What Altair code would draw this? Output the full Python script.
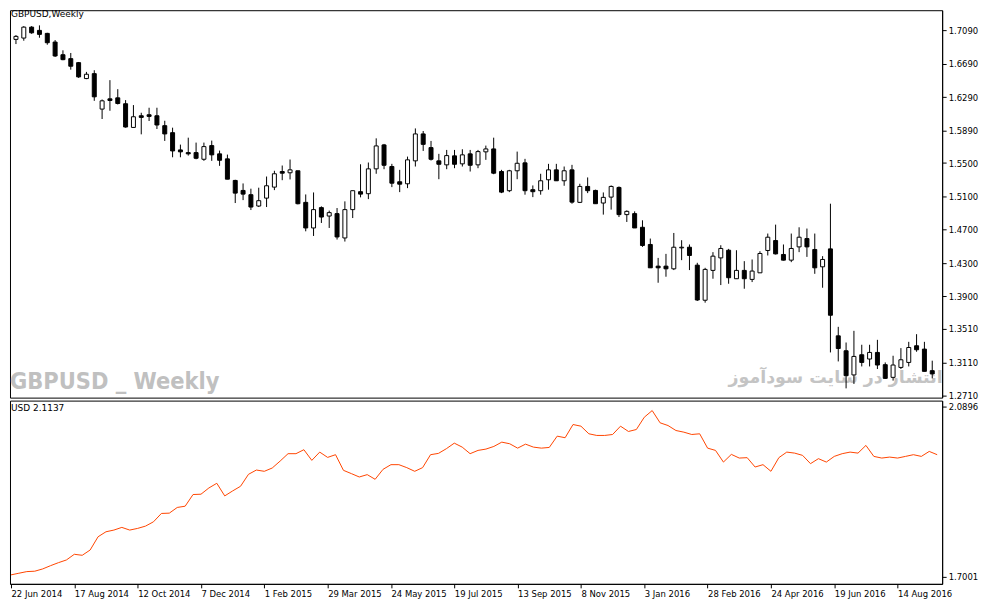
import json
import altair as alt
import pandas as pd

# ---- data (weekly candles, 22 Jun 2014 .. 18 Sep 2016) ----
opens = [1.6983, 1.6999, 1.7130, 1.7091, 1.7055, 1.6951, 1.6799, 1.6752, 1.6704, 1.6513,
         1.6572, 1.6147, 1.6270, 1.6282, 1.6211, 1.5927, 1.6067, 1.6079, 1.6067, 1.5948,
         1.5864, 1.5657, 1.5625, 1.5625, 1.5545, 1.5709, 1.5610, 1.5550, 1.5291, 1.5171,
         1.5120, 1.4984, 1.5079, 1.5211, 1.5398, 1.5383, 1.5407, 1.5028, 1.4721, 1.4965,
         1.4864, 1.4893, 1.4601, 1.4941, 1.5156, 1.5132, 1.5430, 1.5717, 1.5458, 1.5275,
         1.5251, 1.5526, 1.5849, 1.5685, 1.5526, 1.5478, 1.5586, 1.5490, 1.5610, 1.5478,
         1.5634, 1.5669, 1.5398, 1.5168, 1.5407, 1.5502, 1.5180, 1.5168, 1.5299, 1.5418,
         1.5287, 1.5418, 1.5028, 1.5219, 1.5171, 1.5020, 1.5091, 1.5207, 1.4881, 1.4893,
         1.4729, 1.4523, 1.4263, 1.4263, 1.4231, 1.4482, 1.4490, 1.4275, 1.3854, 1.4212,
         1.4362, 1.4454, 1.4112, 1.4212, 1.4104, 1.4183, 1.4451, 1.4570, 1.4403, 1.4335,
         1.4494, 1.4594, 1.4463, 1.4255, 1.4470, 1.3427, 1.3248, 1.2958, 1.3200, 1.3149,
         1.3228, 1.3081, 1.2929, 1.3048, 1.3108, 1.3308, 1.3268, 1.3009]
highs = [1.7035, 1.7142, 1.7142, 1.7151, 1.7062, 1.6975, 1.6852, 1.6820, 1.6712, 1.6593,
         1.6613, 1.6262, 1.6494, 1.6386, 1.6255, 1.6195, 1.6103, 1.6163, 1.6163, 1.6007,
         1.5924, 1.5721, 1.5804, 1.5745, 1.5745, 1.5769, 1.5649, 1.5601, 1.5299, 1.5255,
         1.5192, 1.5204, 1.5338, 1.5407, 1.5470, 1.5542, 1.5407, 1.5123, 1.5147, 1.4980,
         1.4929, 1.4960, 1.5040, 1.5168, 1.5485, 1.5506, 1.5796, 1.5729, 1.5490, 1.5418,
         1.5577, 1.5915, 1.5884, 1.5765, 1.5610, 1.5657, 1.5657, 1.5665, 1.5657, 1.5657,
         1.5709, 1.5804, 1.5418, 1.5418, 1.5637, 1.5550, 1.5231, 1.5371, 1.5490, 1.5490,
         1.5458, 1.5478, 1.5251, 1.5327, 1.5180, 1.5147, 1.5231, 1.5219, 1.4932, 1.4920,
         1.4813, 1.4594, 1.4362, 1.4410, 1.4661, 1.4574, 1.4523, 1.4303, 1.4243, 1.4431,
         1.4514, 1.4470, 1.4454, 1.4323, 1.4343, 1.4442, 1.4654, 1.4761, 1.4523, 1.4654,
         1.4729, 1.4714, 1.4654, 1.4383, 1.5012, 1.3535, 1.3347, 1.3487, 1.3320, 1.3320,
         1.3379, 1.3108, 1.3188, 1.3280, 1.3355, 1.3447, 1.3355, 1.3129]
lows = [1.6927, 1.6967, 1.7050, 1.7003, 1.6919, 1.6772, 1.6733, 1.6620, 1.6521, 1.6506,
        1.6246, 1.6028, 1.6127, 1.6202, 1.5924, 1.5924, 1.5844, 1.6004, 1.5908, 1.5765,
        1.5569, 1.5569, 1.5589, 1.5545, 1.5526, 1.5526, 1.5466, 1.5306, 1.5020, 1.5055,
        1.4936, 1.4972, 1.4972, 1.5175, 1.5294, 1.5303, 1.5004, 1.4681, 1.4625, 1.4781,
        1.4721, 1.4582, 1.4558, 1.4840, 1.5088, 1.5067, 1.5371, 1.5426, 1.5211, 1.5151,
        1.5199, 1.5458, 1.5645, 1.5530, 1.5306, 1.5426, 1.5438, 1.5458, 1.5398, 1.5438,
        1.5538, 1.5366, 1.5139, 1.5151, 1.5306, 1.5120, 1.5091, 1.5120, 1.5180, 1.5287,
        1.5227, 1.5012, 1.5020, 1.5139, 1.5012, 1.4881, 1.4941, 1.4852, 1.4793, 1.4721,
        1.4494, 1.4243, 1.4064, 1.4136, 1.4216, 1.4335, 1.4216, 1.3845, 1.3825, 1.4112,
        1.4036, 1.4052, 1.4112, 1.3992, 1.4072, 1.4183, 1.4391, 1.4403, 1.4331, 1.4311,
        1.4431, 1.4374, 1.4171, 1.4004, 1.3228, 1.3120, 1.2797, 1.2850, 1.3060, 1.3060,
        1.3029, 1.2910, 1.2890, 1.3029, 1.3060, 1.3236, 1.3001, 1.2917]
closes = [1.7019, 1.7130, 1.7062, 1.7043, 1.6943, 1.6784, 1.6740, 1.6661, 1.6533, 1.6565,
          1.6294, 1.6246, 1.6250, 1.6214, 1.5932, 1.6055, 1.6047, 1.6059, 1.5956, 1.5849,
          1.5645, 1.5634, 1.5610, 1.5557, 1.5697, 1.5598, 1.5533, 1.5306, 1.5139, 1.5127,
          1.4972, 1.5048, 1.5227, 1.5371, 1.5378, 1.5418, 1.5012, 1.4721, 1.4941, 1.4852,
          1.4905, 1.4613, 1.4941, 1.5168, 1.5127, 1.5430, 1.5705, 1.5473, 1.5258, 1.5246,
          1.5538, 1.5849, 1.5724, 1.5545, 1.5485, 1.5589, 1.5485, 1.5598, 1.5473, 1.5637,
          1.5669, 1.5378, 1.5151, 1.5407, 1.5497, 1.5168, 1.5156, 1.5287, 1.5418, 1.5287,
          1.5407, 1.5031, 1.5219, 1.5168, 1.5012, 1.5088, 1.5219, 1.4881, 1.4920, 1.4721,
          1.4511, 1.4243, 1.4243, 1.4231, 1.4490, 1.4490, 1.4391, 1.3857, 1.4224, 1.4383,
          1.4475, 1.4124, 1.4212, 1.4112, 1.4204, 1.4415, 1.4610, 1.4410, 1.4335, 1.4475,
          1.4610, 1.4494, 1.4243, 1.4343, 1.3674, 1.3275, 1.2949, 1.3180, 1.3108, 1.3228,
          1.3077, 1.2917, 1.3077, 1.3140, 1.3287, 1.3260, 1.3001, 1.2970]
usd = [1.7047, 1.7085, 1.7122, 1.7131, 1.7183, 1.7258, 1.7327, 1.7388, 1.7518, 1.7495,
       1.7616, 1.7919, 1.8033, 1.8072, 1.8133, 1.8072, 1.8110, 1.8163, 1.8261, 1.8452,
       1.8459, 1.8589, 1.8618, 1.8885, 1.8892, 1.9035, 1.9142, 1.8853, 1.8967, 1.9074,
       1.9347, 1.9445, 1.9416, 1.9491, 1.9650, 1.9819, 1.9819, 1.9910, 1.9666, 1.9855,
       1.9734, 1.9796, 1.9438, 1.9363, 1.9286, 1.9340, 1.9233, 1.9461, 1.9568, 1.9568,
       1.9500, 1.9416, 1.9500, 1.9796, 1.9826, 1.9933, 2.0060, 1.9969, 1.9819, 1.9894,
       1.9924, 1.9985, 2.0083, 2.0046, 1.9946, 2.0037, 1.9969, 1.9946, 1.9962, 2.0220,
       2.0184, 2.0486, 2.0448, 2.0274, 2.0236, 2.0236, 2.0258, 2.0448, 2.0327, 2.0372,
       2.0652, 2.0805, 2.0525, 2.0463, 2.0349, 2.0311, 2.0258, 2.0274, 1.9946, 1.9894,
       1.9627, 1.9803, 1.9719, 1.9728, 1.9514, 1.9568, 1.9416, 1.9728, 1.9855, 1.9832,
       1.9780, 1.9591, 1.9705, 1.9627, 1.9757, 1.9819, 1.9855, 1.9832, 2.0008, 1.9757,
       1.9719, 1.9741, 1.9719, 1.9757, 1.9796, 1.9757, 1.9871, 1.9796]

date_tick_index = [0, 8, 16, 24, 32, 40, 48, 56, 64, 72, 80, 88, 96, 104, 112]
date_tick_labels = ["22 Jun 2014", "17 Aug 2014", "12 Oct 2014", "7 Dec 2014", "1 Feb 2015",
                    "29 Mar 2015", "24 May 2015", "19 Jul 2015", "13 Sep 2015", "8 Nov 2015",
                    "3 Jan 2016", "28 Feb 2016", "24 Apr 2016", "19 Jun 2016", "14 Aug 2016"]
price_ticks = [1.7090, 1.6690, 1.6290, 1.5890, 1.5500, 1.5100, 1.4700, 1.4300,
               1.3900, 1.3510, 1.3110, 1.2710]
usd_ticks = [2.0896, 1.7001]

df = pd.DataFrame({"i": list(range(len(opens))), "open": opens, "high": highs,
                   "low": lows, "close": closes, "usd": usd})

W, H1, H2 = 936, 389, 184
FONT = "DejaVu Sans"

xscale = alt.Scale(domain=[-0.126, 117.63], nice=False, zero=False)
pscale = alt.Scale(domain=[1.2686, 1.7333], nice=False, zero=False)
uscale = alt.Scale(domain=[1.6842, 2.1033], nice=False, zero=False)

price_axis = alt.Axis(orient="right", values=price_ticks, format=".4f", title=None,
                      grid=False, tickSize=4, labelPadding=2, labelBaseline="middle")

base = alt.Chart(df)
wick = base.mark_rule(color="black", strokeWidth=1).encode(
    x=alt.X("i:Q", scale=xscale, axis=None),
    y=alt.Y("low:Q", scale=pscale, axis=price_axis),
    y2="high:Q",
)
body = base.mark_bar(size=4, stroke="black", strokeWidth=1).encode(
    x=alt.X("i:Q", scale=xscale, axis=None),
    y=alt.Y("open:Q", scale=pscale, axis=price_axis),
    y2="close:Q",
    fill=alt.condition("datum.close >= datum.open", alt.value("white"), alt.value("black")),
)

title_txt = alt.Chart(pd.DataFrame({"t": ["GBPUSD,Weekly"]})).mark_text(
    align="left", baseline="top", font=FONT, fontSize=9, color="black"
).encode(x=alt.value(1), y=alt.value(0), text="t:N")

wm1 = alt.Chart(pd.DataFrame({"t": ["GBPUSD _ Weekly"]})).mark_text(
    align="left", baseline="alphabetic", font="DejaVu Sans Condensed, DejaVu Sans, sans-serif",
    fontSize=23.5, fontWeight="bold", color="#c0c0c0"
).encode(x=alt.value(0), y=alt.value(380), text="t:N")

wm2 = alt.Chart(pd.DataFrame({"t": ["انتشار در سایت سودآموز"]})).mark_text(
    align="center", baseline="alphabetic", font=FONT, fontSize=17.5, fontWeight="bold",
    color="#c4c4c4"
).encode(x=alt.value(829), y=alt.value(374), text="t:N")

upper = alt.layer(wm1, wm2, wick, body, title_txt).properties(width=W, height=H1)

label_expr = json.dumps(date_tick_labels) + "[round(datum.value / 8)]"

line = alt.Chart(df).mark_line(color="#ff4500", strokeWidth=1).encode(
    x=alt.X("i:Q", scale=xscale,
            axis=alt.Axis(values=date_tick_index, labelExpr=label_expr, title=None, grid=False,
                          labelAlign="left", labelBaseline="top", tickSize=4, labelPadding=2,
                          labelFlush=False, labelOverlap=False)),
    y=alt.Y("usd:Q", scale=uscale,
            axis=alt.Axis(orient="right", values=usd_ticks, format=".4f", title=None,
                          grid=False, tickSize=4, labelPadding=2, labelBaseline="middle")),
)
usd_txt = alt.Chart(pd.DataFrame({"t": ["USD 2.1137"]})).mark_text(
    align="left", baseline="top", font=FONT, fontSize=9, color="black"
).encode(x=alt.value(1), y=alt.value(3), text="t:N")

lower = alt.layer(line, usd_txt).properties(width=W, height=H2)

chart = alt.vconcat(upper, lower, spacing=3, bounds="flush").properties(
    padding=0, background="white"
).configure_view(
    stroke="black", strokeWidth=1
).configure_axis(
    domainColor="black", tickColor="black", labelColor="black", labelFont=FONT,
    labelFontSize=8.5, domainWidth=1, tickWidth=1
)

chart.save("out.html", embed_options={"renderer": "svg", "actions": False})
